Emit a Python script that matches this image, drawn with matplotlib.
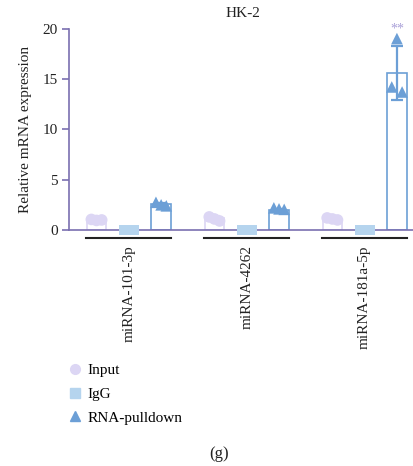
import numpy as np
import matplotlib.pyplot as plt
from matplotlib.lines import Line2D

groups = ["miRNA-101-3p", "miRNA-4262", "miRNA-181a-5p"]
series = ["Input", "IgG", "RNA-pulldown"]

input_pts = [[1.05, 0.95, 1.0], [1.3, 1.1, 0.9], [1.2, 1.1, 1.0]]
igg_pts = [[0.0, 0.0, 0.0], [0.0, 0.0, 0.0], [0.0, 0.0, 0.0]]
pull_pts = [[2.75, 2.5, 2.4], [2.2, 2.1, 2.05], [14.2, 19.0, 13.7]]

bar_heights = [[1.0, 0.0, 2.55], [1.15, 0.0, 2.0], [1.1, 0.0, 15.6]]
bar_err = [[0.05, 0.0, 0.18], [0.2, 0.0, 0.08], [0.2, 0.0, 2.7]]

colors = ["#dcd6f4", "#b5d4ee", "#6c9fd6"]
markers = ["o", "s", "^"]
sizes = [70, 50, 70]
axis_col = "#7a6fb0"

plt.rcParams['font.family'] = ['Liberation Serif', 'DejaVu Serif']

fig = plt.figure(figsize=(4.13, 4.66), dpi=100)
ax = fig.add_axes([0.168, 0.5064, 0.84, 0.4324])

group_gap = 3.65
jit = np.array([-0.16, 0.0, 0.16])
all_pts = [input_pts, igg_pts, pull_pts]

for g in range(len(groups)):
    c = g * group_gap
    for s in range(3):
        x = c + (s - 1)
        h = bar_heights[g][s]
        if s != 1:
            ax.bar(x, h, width=0.6, facecolor="white", edgecolor=colors[s],
                   linewidth=1.2, zorder=2)
            ax.errorbar(x, h, yerr=bar_err[g][s], color=colors[s], lw=1.6,
                        capsize=4, capthick=1.6, zorder=3)
        ax.scatter(x + jit, all_pts[s][g], marker=markers[s], s=sizes[s],
                   color=colors[s], edgecolors="none", zorder=4,
                   clip_on=False)
    # group underline
    ax.plot([c - 1.32, c + 1.32], [-0.04, -0.04], color="#222222", lw=1.5,
            transform=ax.get_xaxis_transform(), clip_on=False)

ax.text(2 * group_gap + 1, 19.9, "**", ha="center", va="center",
        color="#a9a0d8", fontsize=10)

ax.set_xlim(-1.84, 8.9)
ax.set_ylim(0, 20)
ax.set_yticks([0, 5, 10, 15, 20])
ax.set_xticks([g * group_gap for g in range(3)])
ax.set_xticklabels(groups, rotation=90, fontsize=11, color="#222222")
ax.tick_params(axis="x", length=0, pad=11)
ax.tick_params(axis="y", colors=axis_col, labelcolor="#222222",
               labelsize=11, length=5, width=1.2, direction="out")
for sp in ["top", "right"]:
    ax.spines[sp].set_visible(False)
ax.spines["left"].set_color(axis_col)
ax.spines["bottom"].set_color(axis_col)
ax.spines["left"].set_linewidth(1.2)
ax.spines["bottom"].set_linewidth(1.2)
ax.set_ylabel("Relative mRNA expression", fontsize=11, color="#222222")
ax.yaxis.set_label_coords(-0.107, 0.5)
ax.set_title("HK-2", fontsize=11, color="#222222", pad=8)

handles = [Line2D([], [], ls="none", marker=markers[i], color=colors[i],
                  markersize=7) for i in range(3)]
fig.legend(handles, series, loc="upper left", bbox_to_anchor=(0.13, 0.249),
           frameon=False, fontsize=11, handlelength=1.0, handletextpad=0.3,
           labelspacing=0.65)

fig.text(0.53, 0.018, "(g)", ha="center", fontsize=12, color="#222222")

fig.savefig("out.png", dpi=100)
